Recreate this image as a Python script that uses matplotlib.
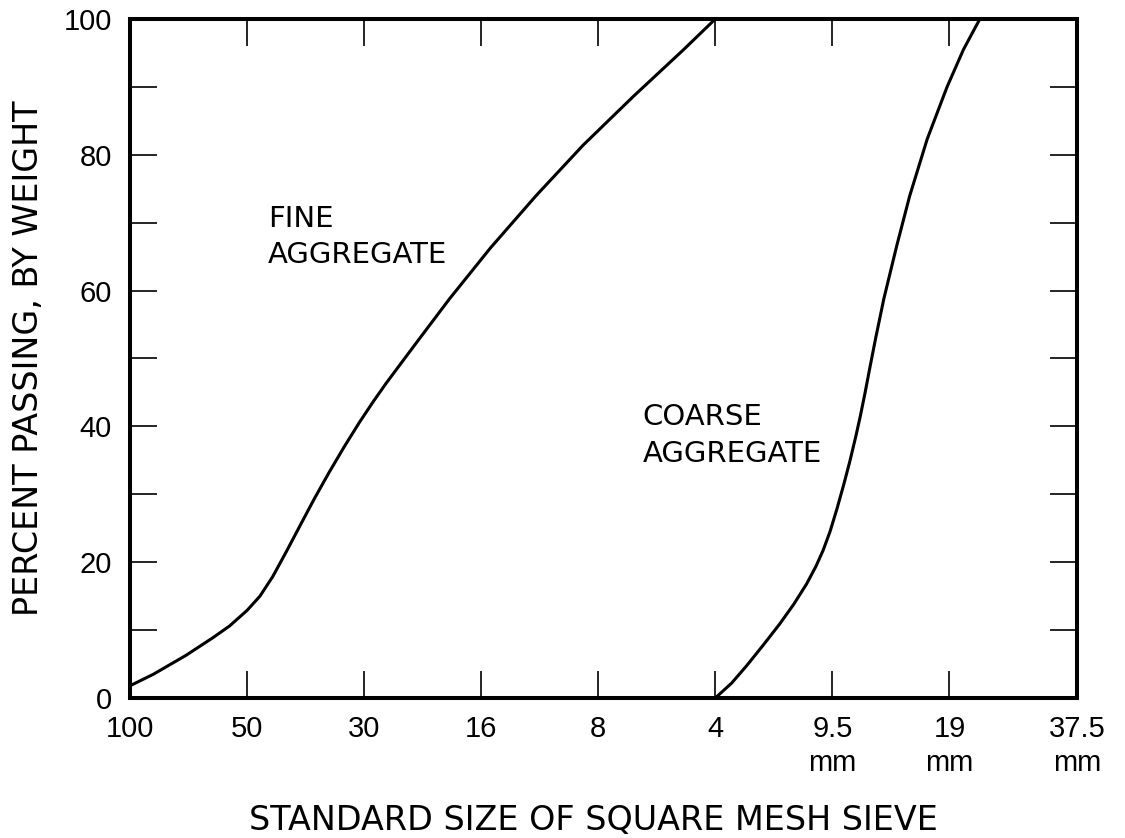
import matplotlib
matplotlib.use("Agg")
import matplotlib.pyplot as plt
from matplotlib.ticker import MultipleLocator

# ---- data -------------------------------------------------------------
sieve_labels = ["100", "50", "30", "16", "8", "4", "9.5\nmm", "19\nmm", "37.5\nmm"]
sieve_pos = [0, 1, 2, 3, 4, 5, 6, 7, 8.09]

fine_x = [0.0, 0.2, 0.48, 0.71, 0.85, 1.0, 1.11, 1.22, 1.34, 1.45, 1.57, 1.70,
          1.83, 1.96, 2.08, 2.19, 2.45, 2.73, 3.08, 3.47, 3.87, 4.30, 4.73, 5.0]
fine_y = [1.8, 3.5, 6.3, 8.9, 10.6, 12.9, 15.0, 17.9, 21.7, 25.3, 29.2, 33.2,
          37.0, 40.6, 43.7, 46.4, 52.4, 58.8, 66.3, 74.0, 81.4, 88.6, 95.5, 100.0]

coarse_x = [5.0, 5.14, 5.27, 5.41, 5.55, 5.67, 5.78, 5.86, 5.92, 5.98, 6.04,
            6.10, 6.15, 6.20, 6.24, 6.28, 6.32, 6.37, 6.44, 6.55, 6.66, 6.81,
            6.98, 7.12, 7.26]
coarse_y = [0.0, 2.2, 4.8, 7.8, 10.9, 13.8, 16.8, 19.4, 21.7, 24.5, 27.9,
            31.6, 34.9, 38.5, 41.6, 45.0, 48.6, 53.0, 58.8, 66.6, 73.9, 82.3,
            90.0, 95.5, 100.0]

y_ticks = [0, 20, 40, 60, 80, 100]

# ---- figure -----------------------------------------------------------
fig = plt.figure(figsize=(11.25, 8.38), dpi=100)
ax = fig.add_axes([130 / 1125, 1 - 698 / 838, 947 / 1125, 679 / 838])

ax.plot(fine_x, fine_y, color="black", lw=2.2, solid_joinstyle="round")
ax.plot(coarse_x, coarse_y, color="black", lw=2.2, solid_joinstyle="round")

ax.set_xlim(0, sieve_pos[-1])
ax.set_ylim(0, 100)

for s in ax.spines.values():
    s.set_linewidth(2.9)

tick_font = "Liberation Sans"

ax.set_xticks(sieve_pos)
ax.set_xticklabels(sieve_labels, family=tick_font, fontsize=21, linespacing=1.3)
ax.set_yticks(y_ticks)
ax.set_yticklabels([str(v) for v in y_ticks], family=tick_font, fontsize=21)
ax.yaxis.set_minor_locator(MultipleLocator(10))

ax.tick_params(axis="both", which="both", direction="in", length=19.5,
               width=1.2, top=True, right=True, color="black")
ax.tick_params(axis="y", which="major", pad=13)
ax.tick_params(axis="x", which="major", pad=12)

ax.set_xlabel("STANDARD SIZE OF SQUARE MESH SIEVE", fontsize=24,
              family="DejaVu Sans")
ax.xaxis.label.set_verticalalignment("baseline")
ax.xaxis.set_label_coords(0.489, -0.1944)

ax.set_ylabel("PERCENT PASSING, BY WEIGHT", fontsize=24, family="DejaVu Sans")
ax.yaxis.label.set_rotation_mode("anchor")
ax.yaxis.label.set_verticalalignment("baseline")
ax.yaxis.set_label_coords((38 - 130) / 947, 0.5)

ax.text(1.18, 69.4, "FINE", fontsize=21, va="baseline", ha="left")
ax.text(1.18, 64.1, "AGGREGATE", fontsize=21, va="baseline", ha="left")
ax.text(4.38, 40.2, "COARSE", fontsize=21, va="baseline", ha="left")
ax.text(4.38, 34.8, "AGGREGATE", fontsize=21, va="baseline", ha="left")

fig.savefig("out.png", dpi=100, facecolor="white")
